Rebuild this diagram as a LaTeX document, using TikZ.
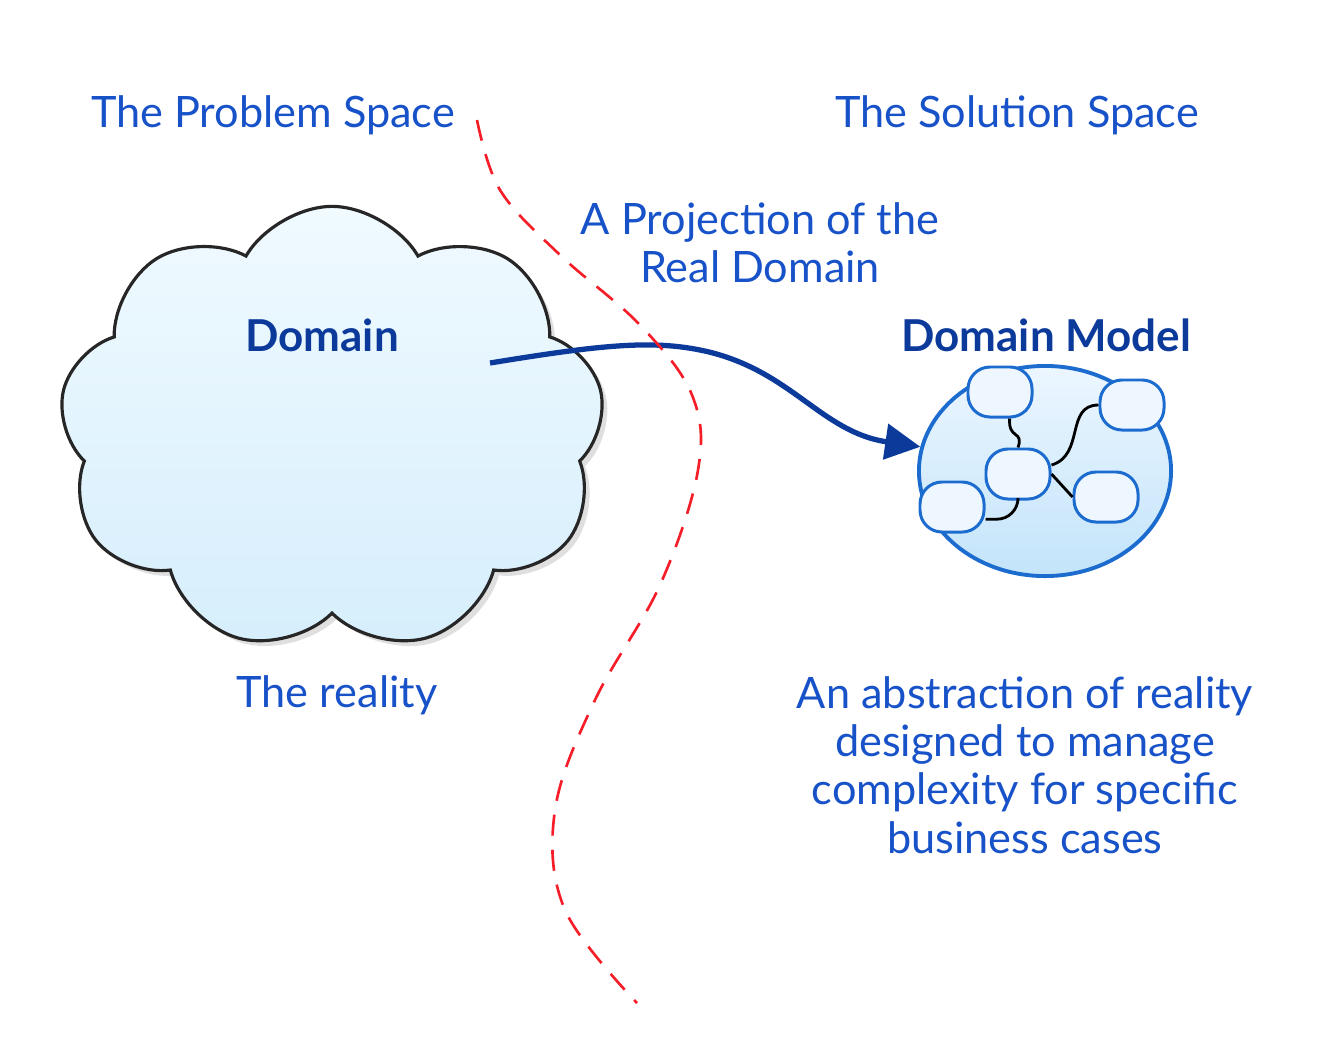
\documentclass[tikz,border=0pt]{standalone}
\usepackage{fontspec}
\setmainfont{Lato}
\usetikzlibrary{shapes.symbols,shapes.geometric,arrows.meta,shadows}
\definecolor{textblue}{RGB}{24,82,200}
\definecolor{darkblue}{RGB}{12,58,155}
\definecolor{modelblue}{RGB}{28,108,208}
\definecolor{dashred}{RGB}{245,30,40}

\begin{document}
\begin{tikzpicture}[x=0.01cm,y=-0.01cm,
  label/.style={text=textblue,font=\fontsize{12.3}{13.7}\selectfont,align=center},
  title/.style={text=darkblue,font=\bfseries\fontsize{12.5}{14}\selectfont},
  entity/.style={draw=modelblue,line width=0.85pt,fill={rgb,255:red,238;green,246;blue,255},
    minimum width=0.64cm,minimum height=0.5cm,rounded corners=0.22cm,inner sep=0pt},
  link/.style={draw=black,line width=0.8pt}]
\useasboundingbox (0,0) rectangle (1334,1042);

\node[label](problem) at (273,115) {The Problem Space};
\node[label](solution) at (1017,115) {The Solution Space};
\node[label](projection) at (760,243) {A Projection of the\\Real Domain};

\node[cloud,cloud puffs=9,cloud puff arc=120,draw=black!85,line width=0.9pt,
  top color={rgb,255:red,240;green,250;blue,255},bottom color={rgb,255:red,214;green,238;blue,252},
  minimum width=5.45cm,minimum height=4.45cm,
  drop shadow={opacity=0.25,shadow xshift=1.5pt,shadow yshift=-1.5pt}](domaincloud) at (332,429) {};
\node[title](domain) at (322,335) {Domain};
\node[label](reality) at (337,695) {The reality};

\node[ellipse,draw=modelblue,line width=1.1pt,
  top color={rgb,255:red,236;green,246;blue,255},bottom color={rgb,255:red,195;green,228;blue,250},
  minimum width=2.52cm,minimum height=2.1cm](model) at (1045,471) {};
\node[title](modeltitle) at (1046,335) {Domain Model};
\node[entity](mtop) at (1000,392) {};
\node[entity](mright) at (1132,405) {};
\node[entity](mcenter) at (1018,474) {};
\node[entity](mleft) at (952,507) {};
\node[entity](mbottom) at (1106,497) {};

\draw[link] (mtop.-70) .. controls (1008,440) and (1024,430) .. (mcenter.north);
\draw[link] (mcenter.15) .. controls (1085,455) and (1065,405) .. (mright.west);
\draw[link] (mcenter.east) -- (mbottom.west);
\draw[link,rounded corners=6] (mcenter.south) |- (mleft.-20);

\node[label](abstraction) at (1025,765) {An abstraction of reality\\designed to manage\\complexity for specific\\business cases};

\coordinate (start) at (490,363);
\draw[darkblue,line width=1.5pt,-{Triangle[length=10pt,width=10pt]}]
  (start) .. controls (600,345) and (650,340) .. (700,350)
  .. controls (790,368) and (820,432) .. (model.169);

\draw[dashred,line width=0.75pt,dash pattern=on 6pt off 4pt]
  plot[smooth,tension=0.6] coordinates {(477,120) (500,190) (560,255) (640,325) (692,395) (698,470)
  (660,585) (595,700) (555,810) (565,910) (637,1003)};
\end{tikzpicture}
\end{document}
